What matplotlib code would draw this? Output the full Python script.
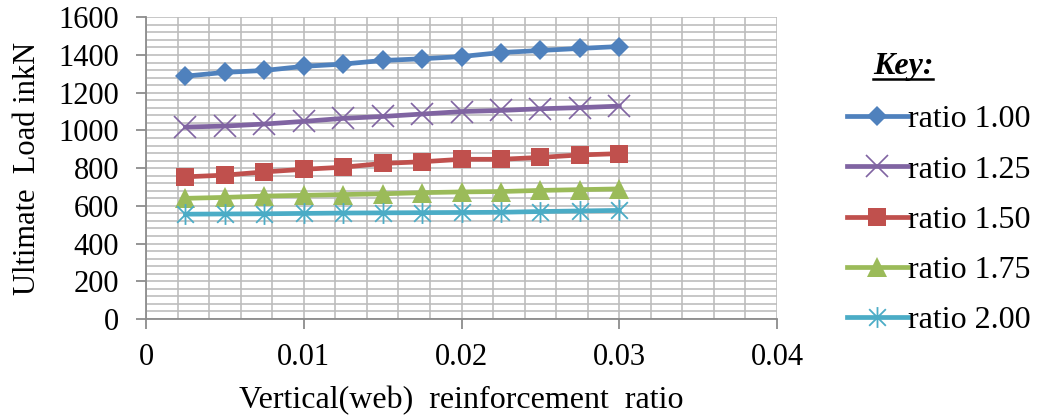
import matplotlib
matplotlib.use("Agg")
import matplotlib.pyplot as plt
from matplotlib.path import Path
from matplotlib.ticker import MultipleLocator, FuncFormatter
from matplotlib.lines import Line2D

# Vertical (web) reinforcement ratios tested
web_ratio = [0.0025, 0.005, 0.0075, 0.01, 0.0125, 0.015, 0.0175, 0.02,
             0.0225, 0.025, 0.0275, 0.03]

# Ultimate load (kN) for each shear span ratio
load_ratio_100 = [1288, 1308, 1318, 1340, 1352, 1371, 1380, 1392, 1413, 1424, 1435, 1445]
load_ratio_125 = [1018, 1023, 1034, 1048, 1064, 1074, 1087, 1100, 1106, 1115, 1121, 1129]
load_ratio_150 = [754, 763, 780, 794, 805, 825, 834, 847, 847, 857, 870, 877]
load_ratio_175 = [640, 645, 652, 656, 660, 664, 670, 674, 676, 682, 686, 690]
load_ratio_200 = [556, 557, 558, 560, 562, 563, 564, 565, 566, 570, 573, 576]

series_labels = ["ratio 1.00", "ratio 1.25", "ratio 1.50", "ratio 1.75", "ratio 2.00"]
x_ticks = [0, 0.01, 0.02, 0.03, 0.04]
y_ticks = [0, 200, 400, 600, 800, 1000, 1200, 1400, 1600]

plt.rcParams["font.family"] = ["Liberation Serif", "DejaVu Serif"]

# asterisk marker: an X crossed by a vertical bar
star_path = Path(
    [(-1, -1), (1, 1), (-1, 1), (1, -1), (0, -1.25), (0, 1.25)],
    [Path.MOVETO, Path.LINETO, Path.MOVETO, Path.LINETO, Path.MOVETO, Path.LINETO],
)

styles = [
    dict(color="#4F81BD", marker="D", markersize=10.5, markeredgewidth=0),
    dict(color="#8064A2", marker="x", markersize=16, markeredgewidth=1.2),
    dict(color="#C0504D", marker="s", markersize=13.5, markeredgewidth=0),
    dict(color="#9BBB59", marker="^", markersize=14.5, markeredgewidth=0),
    dict(color="#4BACC6", marker=star_path, markersize=15, markeredgewidth=1.3),
]
all_loads = [load_ratio_100, load_ratio_125, load_ratio_150, load_ratio_175, load_ratio_200]

fig = plt.figure(figsize=(10.43, 4.17), dpi=100)
ax = fig.add_axes([0.140, 0.235, 0.605, 0.7235])

for loads, label, st in zip(all_loads, series_labels, styles):
    ax.plot(web_ratio, loads, linewidth=3.4, label=label, **st)

ax.set_xlim(0, 0.04)
ax.set_ylim(0, 1600)
ax.set_xticks(x_ticks)
ax.set_yticks(y_ticks)
ax.xaxis.set_major_formatter(FuncFormatter(lambda v, p: "%g" % v))
ax.xaxis.set_minor_locator(MultipleLocator(0.002))
ax.yaxis.set_minor_locator(MultipleLocator(40))

grid_color = "#BDBDBD"
ax.grid(True, which="both", color=grid_color, linewidth=1.2, zorder=0)
ax.set_axisbelow(True)

for side in ("top", "right"):
    ax.spines[side].set_visible(False)
for side in ("left", "bottom"):
    ax.spines[side].set_color("#8C8C8C")
    ax.spines[side].set_linewidth(1.3)

ax.tick_params(which="major", length=7, width=1.3, color="#8C8C8C", labelsize=22)
ax.tick_params(axis="x", which="major", pad=10)
ax.tick_params(axis="y", which="major", pad=12.5)
ax.tick_params(which="minor", length=0)

ax.set_ylabel("Ultimate  Load inkN", fontsize=22, labelpad=12)
ax.set_xlabel("Vertical(web)  reinforcement  ratio", fontsize=23, labelpad=10)

leg = ax.legend(loc="upper left", bbox_to_anchor=(0.812, 0.748),
                bbox_transform=fig.transFigure, frameon=False,
                fontsize=23, handlelength=1.9, handletextpad=0.0,
                labelspacing=0.65, borderpad=0, borderaxespad=0)

key = fig.text(0.866, 0.840, "Key:", fontsize=23, fontweight="bold",
               fontstyle="italic", ha="center", va="center")
fig.canvas.draw()
bb = key.get_window_extent().transformed(fig.transFigure.inverted())
fig.add_artist(Line2D([bb.x0, bb.x1], [bb.y0 + 0.006, bb.y0 + 0.006],
                      color="black", linewidth=1.8, transform=fig.transFigure))

fig.savefig("out.png", dpi=100)
